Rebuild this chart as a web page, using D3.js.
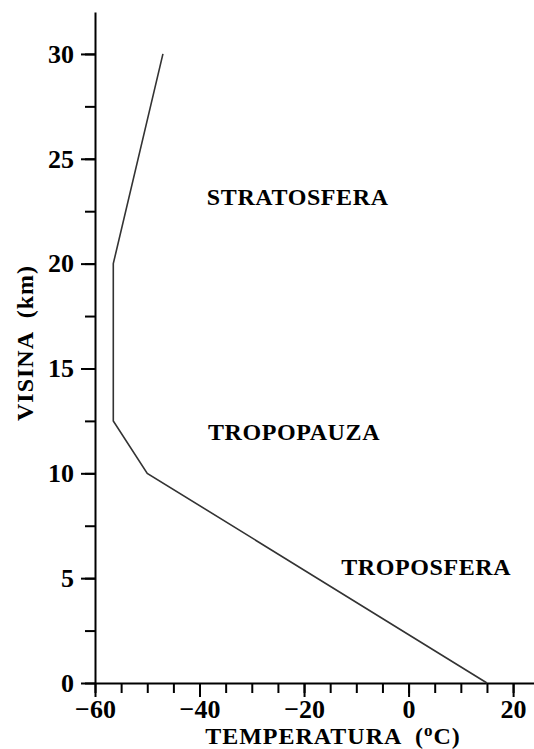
<!DOCTYPE html>
<html lang="en">
<head>
    <meta charset="UTF-8">
    <title>Temperatura i visina</title>
    <script src="https://d3js.org/d3.v7.min.js"></script>
</head>
<body style="margin:0;background:#fff">

<style>
    svg {
        font-family: "Liberation Serif", "DejaVu Serif", serif;
        font-weight: bold;
    }
    .axis path, .axis line {
        stroke: #000;
        stroke-width: 2;
    }
    .axis text {
        font-family: "Liberation Serif", "DejaVu Serif", serif;
        font-weight: bold;
        font-size: 26px;
        fill: #000;
    }
    .title {
        white-space: pre;
        letter-spacing: 1px;
    }
</style>

<div id="chart"></div>

<script>
    // temperature profile (degC) against altitude (km)
    var temps = [15, -50, -56.5, -56.5, -47];
    var heights = [0, 10, 12.5, 20, 30];

    // layer labels, anchored at their left baseline
    var labelText = ["STRATOSFERA", "TROPOPAUZA", "TROPOSFERA"];
    var labelTemp = [-38.6, -38.4, -12.9];
    var labelAlt = [22.8, 11.6, 5.15];

    var xMajor = [-60, -40, -20, 0, 20];
    var xMinor = d3.range(-60, 25, 5);
    var yMajor = [0, 5, 10, 15, 20, 25, 30];
    var yMinor = d3.range(0, 32, 2.5);

    var width = 534, height = 749;

    var svg = d3.select("#chart").append("svg")
        .attr("width", width)
        .attr("height", height);

    var x = d3.scaleLinear().domain([-60, 24]).range([95, 534]);
    var y = d3.scaleLinear().domain([0, 32]).range([683, 12]);

    // minor ticks first, then the labelled axes on top
    svg.append("g")
        .attr("class", "axis")
        .attr("transform", "translate(0,683)")
        .call(d3.axisBottom(x).tickValues(xMinor).tickSize(10).tickSizeOuter(0).tickFormat(""))
        .select(".domain").remove();

    svg.append("g")
        .attr("class", "axis")
        .attr("transform", "translate(95,0)")
        .call(d3.axisLeft(y).tickValues(yMinor).tickSize(10).tickSizeOuter(0).tickFormat(""))
        .select(".domain").remove();

    svg.append("g")
        .attr("class", "axis")
        .attr("transform", "translate(0,683)")
        .call(d3.axisBottom(x).tickValues(xMajor).tickSize(14).tickSizeOuter(0).tickPadding(3));

    svg.append("g")
        .attr("class", "axis")
        .attr("transform", "translate(95,0)")
        .call(d3.axisLeft(y).tickValues(yMajor).tickSize(14).tickSizeOuter(0).tickPadding(7));

    // the profile
    var line = d3.line()
        .x(function(d, i) { return x(temps[i]); })
        .y(function(d, i) { return y(heights[i]); });

    svg.append("path")
        .attr("d", line(temps))
        .style("fill", "none")
        .style("stroke", "#333")
        .style("stroke-width", 1.6);

    svg.selectAll(".layer")
        .data(labelText).enter()
        .append("text")
        .attr("class", "layer")
        .attr("x", function(d, i) { return x(labelTemp[i]); })
        .attr("y", function(d, i) { return y(labelAlt[i]); })
        .style("font-size", "24px")
        .style("letter-spacing", "0.6px")
        .text(function(d) { return d; });

    // axis titles
    var xt = svg.append("text")
        .attr("class", "title")
        .attr("x", 333)
        .attr("y", 744)
        .style("text-anchor", "middle")
        .style("font-size", "24px")
        .text("TEMPERATURA  (");
    xt.append("tspan").attr("dy", -8).style("font-size", "17px").text("o");
    xt.append("tspan").attr("dy", 8).text("C)");

    svg.append("text")
        .attr("class", "title")
        .attr("transform", "translate(33,343) rotate(-90)")
        .style("text-anchor", "middle")
        .style("font-size", "24px")
        .text("VISINA  (km)");

</script>

</body>
</html>
